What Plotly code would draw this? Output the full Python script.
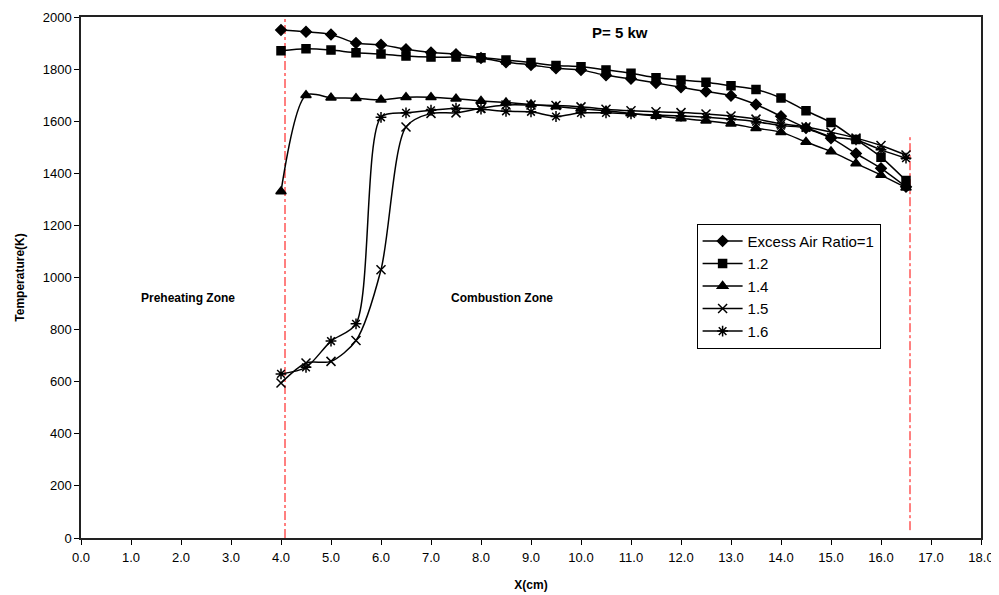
import plotly.graph_objects as go

x_cm = [4.0, 4.5, 5.0, 5.5, 6.0, 6.5, 7.0, 7.5, 8.0, 8.5, 9.0, 9.5, 10.0, 10.5,
        11.0, 11.5, 12.0, 12.5, 13.0, 13.5, 14.0, 14.5, 15.0, 15.5, 16.0, 16.5]

t_ratio_1_0 = [1950, 1943, 1933, 1900, 1893, 1876, 1864, 1857, 1843, 1826, 1816, 1803,
               1797, 1776, 1763, 1747, 1730, 1714, 1698, 1664, 1619, 1574, 1535, 1476,
               1419, 1348]
t_ratio_1_2 = [1870, 1878, 1873, 1863, 1858, 1850, 1846, 1846, 1844, 1835, 1825, 1814,
               1809, 1797, 1784, 1767, 1758, 1750, 1736, 1722, 1689, 1640, 1595, 1530,
               1462, 1372]
t_ratio_1_4 = [1330, 1700, 1690, 1688, 1682, 1692, 1692, 1686, 1678, 1672, 1664, 1656,
               1648, 1640, 1630, 1620, 1610, 1602, 1590, 1573, 1558, 1520, 1484, 1438,
               1393, 1345]
t_ratio_1_5 = [595, 672, 678, 758, 1030, 1578, 1630, 1632, 1650, 1662, 1662, 1660,
               1655, 1646, 1640, 1636, 1633, 1628, 1620, 1608, 1590, 1578, 1558, 1535,
               1507, 1470]
t_ratio_1_6 = [630, 655, 756, 822, 1615, 1632, 1642, 1650, 1646, 1638, 1636, 1618,
               1632, 1632, 1628, 1624, 1620, 1615, 1608, 1598, 1583, 1574, 1540, 1528,
               1490, 1458]

series_names = ["Excess Air Ratio=1", "1.2", "1.4", "1.5", "1.6"]
series_values = [t_ratio_1_0, t_ratio_1_2, t_ratio_1_4, t_ratio_1_5, t_ratio_1_6]
series_symbols = ["diamond", "square", "triangle-up", "x-thin-open", "asterisk-open"]
series_sizes = [8, 8, 9, 9, 9]

zone_boundaries = [4.08, 16.58]
zone_line_spans = [(0, 2000), (30, 1540)]

x_ticks = [float(v) for v in range(0, 19)]
y_ticks = list(range(0, 2001, 200))

fig = go.Figure()
for name, vals, sym, sz in zip(series_names, series_values, series_symbols, series_sizes):
    fig.add_trace(go.Scatter(
        x=x_cm, y=vals, name=name, mode="lines+markers",
        line=dict(color="black", width=1.5, shape="spline", smoothing=0.8),
        marker=dict(symbol=sym, size=sz, color="black",
                    line=dict(color="black", width=1.5)),
    ))

for xb, (y0, y1) in zip(zone_boundaries, zone_line_spans):
    fig.add_shape(type="line", xref="x", yref="y", x0=xb, x1=xb, y0=y0, y1=y1,
                  line=dict(color="red", width=1, dash="dashdot"), layer="below")

fig.add_annotation(x=0.599, y=0.970, xref="paper", yref="paper", text="<b>P= 5 kw</b>",
                   xanchor="center", yanchor="middle",
                   showarrow=False, font=dict(size=15, color="black"))
fig.add_annotation(x=0.119, y=0.460, xref="paper", yref="paper", text="<b>Preheating Zone</b>",
                   xanchor="center", yanchor="middle",
                   showarrow=False, font=dict(size=12, color="black"))
fig.add_annotation(x=0.468, y=0.460, xref="paper", yref="paper", text="<b>Combustion Zone</b>",
                   xanchor="center", yanchor="middle",
                   showarrow=False, font=dict(size=12, color="black"))

fig.update_layout(
    width=991, height=587,
    margin=dict(l=73, r=18, t=9, b=57, autoexpand=False),
    paper_bgcolor="white", plot_bgcolor="white",
    font=dict(family="Liberation Sans, Arial, sans-serif", size=13, color="black"),
    showlegend=True,
    legend=dict(x=0.684, y=0.603, xanchor="left", yanchor="top",
                bgcolor="white", bordercolor="black", borderwidth=1,
                font=dict(size=15), tracegroupgap=0, itemwidth=40),
    xaxis=dict(range=[0, 18], tickvals=x_ticks, tickformat=".1f", automargin=False,
               showgrid=False, zeroline=False, showline=True, linecolor="#222",
               linewidth=1.5, mirror=True, ticks="outside", ticklen=5, tickcolor="black",
               ticklabelstandoff=2,
               title=dict(text="<b>X(cm)</b>", font=dict(size=12), standoff=16)),
    yaxis=dict(range=[0, 2000], tickvals=y_ticks, automargin=False,
               showgrid=False, zeroline=False, showline=True, linecolor="#222",
               linewidth=1.5, mirror=True, ticks="outside", ticklen=5, tickcolor="black",
               title=dict(text="<b>Temperature(K)</b>", font=dict(size=12), standoff=16)),
)

fig.write_html("out.html")
